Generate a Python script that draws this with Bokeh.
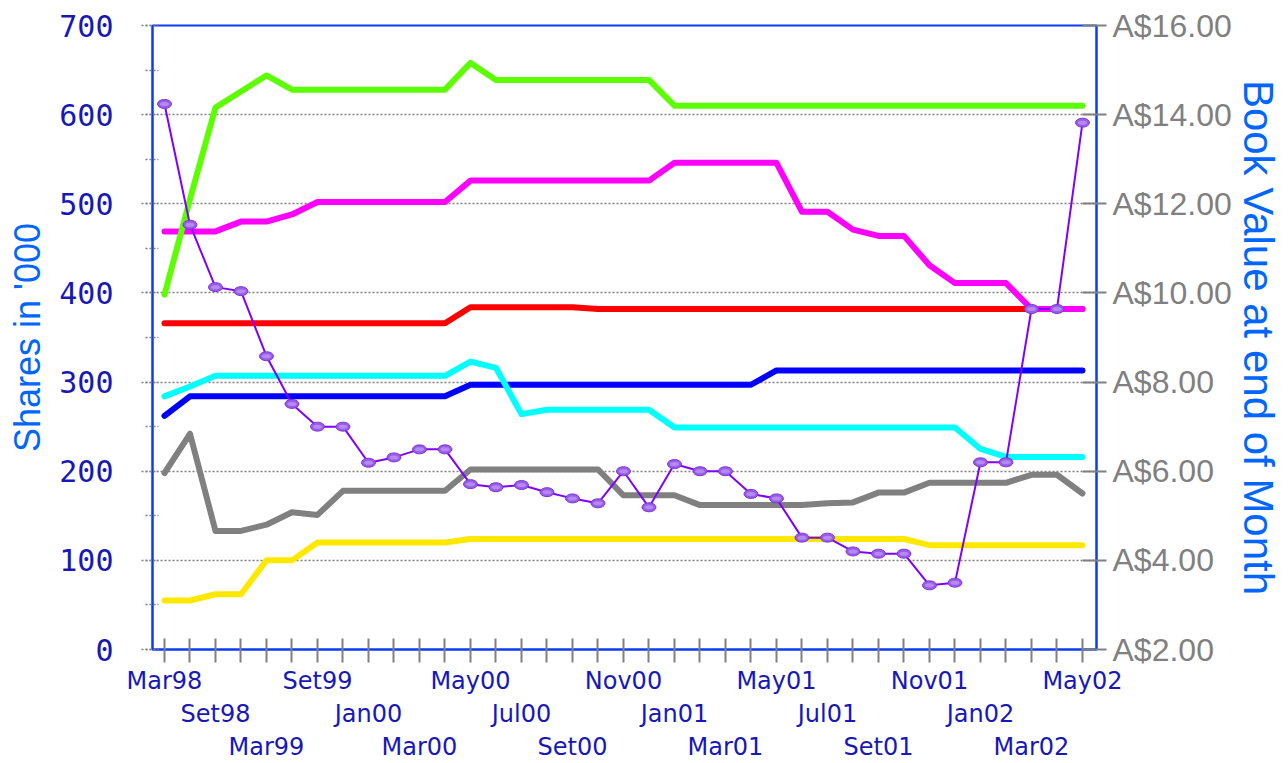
from bokeh.plotting import figure
from bokeh.models import Range1d, LinearAxis, FixedTicker, SingleIntervalTicker
from bokeh.embed import file_html
from bokeh.resources import INLINE

months = ["Mar98", "Jun98", "Set98", "Dec98", "Mar99", "Jun99", "Set99", "Nov99",
          "Jan00", "Feb00", "Mar00", "Apr00", "May00", "Jun00", "Jul00", "Aug00",
          "Set00", "Oct00", "Nov00", "Dec00", "Jan01", "Feb01", "Mar01", "Apr01",
          "May01", "Jun01", "Jul01", "Aug01", "Set01", "Oct01", "Nov01", "Dec01",
          "Jan02", "Feb02", "Mar02", "Apr02", "May02"]

green = [398, 505, 608, 626, 644, 628, 628, 628, 628, 628, 628, 628,
         658, 639, 639, 639, 639, 639, 639, 639,
         610, 610, 610, 610, 610, 610, 610, 610, 610, 610, 610, 610, 610, 610, 610, 610, 610]
magenta = [469, 469, 469, 480, 480, 488, 502, 502, 502, 502, 502, 502,
           526, 526, 526, 526, 526, 526, 526, 526,
           546, 546, 546, 546, 546, 491, 491, 471, 464, 464, 431, 411, 411, 411, 382, 382, 382]
red = [366] * 12 + [384] * 5 + [382] * 20
blue = [262] + [284] * 11 + [297] * 12 + [313] * 13
cyan = [284, 295] + [307] * 10 + [323, 316, 264] + [269] * 5 + [249] * 12 + [225] + [216] * 4
grey = [198, 242, 133, 133, 140, 154, 151] + [178] * 5 + [202] * 6 + [173] * 3 + [162] * 5 + \
       [164, 165, 176, 176] + [187] * 4 + [196, 196, 175]
yellow = [55, 55, 62, 62, 100, 100] + [120] * 6 + [124] * 18 + [117] * 7
book = [14.24, 11.53, 10.13, 10.04, 8.58, 7.51, 7.00, 7.00, 6.19, 6.31, 6.49, 6.49,
        5.71, 5.64, 5.69, 5.53, 5.39, 5.28, 6.00, 5.19, 6.16, 6.00, 6.00, 5.49, 5.39,
        4.51, 4.51, 4.20, 4.15, 4.15, 3.44, 3.50, 6.20, 6.20, 9.64, 9.64, 13.82]
book_ticks = [2, 4, 6, 8, 10, 12, 14, 16]

idx = list(range(len(months)))

AXIS_BLUE = "#0a3cf5"
LABEL_BLUE = "#1818b8"
TITLE_BLUE = "#0066ff"
GREY = "#808080"

p = figure(width=1288, height=763, x_range=Range1d(-0.47, 36.55), y_range=Range1d(0, 700),
           output_backend="svg", toolbar_location=None,
           min_border_left=152, min_border_right=192, min_border_top=25, min_border_bottom=111)
p.outline_line_color = AXIS_BLUE
p.outline_line_width = 2
p.xgrid.visible = False
p.background_fill_color = "white"
p.border_fill_color = "white"

# left axis
ya = p.yaxis[0]
ya.ticker = SingleIntervalTicker(interval=100, num_minor_ticks=2)
ya.axis_line_color = AXIS_BLUE
ya.axis_line_width = 2
ya.major_tick_line_color = GREY
ya.major_tick_line_dash = "2 2"
ya.major_tick_line_width = 1.5
ya.major_tick_in = 0
ya.major_tick_out = 11
ya.minor_tick_line_color = GREY
ya.minor_tick_line_dash = "2 2"
ya.minor_tick_line_width = 1.5
ya.minor_tick_in = 6
ya.minor_tick_out = 7
ya.major_label_text_font = "DejaVu Sans Mono"
ya.major_label_text_font_size = "30px"
ya.major_label_text_color = LABEL_BLUE
ya.major_label_standoff = 28
ya.axis_label = "Shares in '000"
ya.axis_label_text_font = "Liberation Sans"
ya.axis_label_text_font_size = "36px"
ya.axis_label_text_font_style = "normal"
ya.axis_label_text_color = TITLE_BLUE
ya.axis_label_standoff = 8

p.ygrid.grid_line_color = GREY
p.ygrid.grid_line_dash = "2 2"
p.ygrid.grid_line_width = 1.5

# right axis
p.extra_y_ranges = {"book": Range1d(2, 16)}
ra = LinearAxis(y_range_name="book", ticker=FixedTicker(ticks=book_ticks))
ra.major_label_overrides = {t: "A$%.2f" % t for t in book_ticks}
ra.axis_line_color = AXIS_BLUE
ra.axis_line_width = 2
ra.major_tick_line_color = GREY
ra.major_tick_line_width = 2
ra.major_tick_in = 14
ra.major_tick_out = 10
ra.minor_tick_line_color = None
ra.major_label_text_font = "Liberation Sans"
ra.major_label_text_font_size = "32px"
ra.major_label_text_color = GREY
ra.major_label_standoff = 6
ra.axis_label = "Book Value at end of Month"
ra.axis_label_text_font = "Liberation Sans"
ra.axis_label_text_font_size = "42px"
ra.axis_label_text_font_style = "normal"
ra.axis_label_text_color = TITLE_BLUE
ra.axis_label_standoff = 0
p.add_layout(ra, "right")

# bottom axes: three staggered rows of labels
row1 = idx[0::6]
row2 = idx[2::6]
row3 = idx[4::6]

xa = p.xaxis[0]
xa.ticker = FixedTicker(ticks=idx)
xa.major_label_overrides = {i: (months[i] if i in row1 else "") for i in idx}
xa.axis_line_color = AXIS_BLUE
xa.axis_line_width = 2
xa.major_tick_line_color = GREY
xa.major_tick_line_width = 2
xa.major_tick_in = 11
xa.major_tick_out = 13
xa.minor_tick_line_color = None
xa.major_label_standoff = 4

xa2 = LinearAxis(ticker=FixedTicker(ticks=row2))
xa2.major_label_overrides = {i: months[i] for i in row2}
xa2.major_label_standoff = 2
xa3 = LinearAxis(ticker=FixedTicker(ticks=row3))
xa3.major_label_overrides = {i: months[i] for i in row3}
xa3.major_label_standoff = 2
for ax in (xa2, xa3):
    ax.axis_line_color = None
    ax.major_tick_line_color = None
    ax.minor_tick_line_color = None
    ax.major_tick_in = 0
    ax.major_tick_out = 0
    p.add_layout(ax, "below")
for ax in (xa, xa2, xa3):
    ax.major_label_text_font = "DejaVu Sans"
    ax.major_label_text_font_size = "24px"
    ax.major_label_text_color = LABEL_BLUE

# series
style = dict(line_width=6, line_cap="round", line_join="round")
p.line(idx, red, line_color="#ff0000", **style)
p.line(idx, magenta, line_color="#ff00ff", **style)
p.line(idx, blue, line_color="#0000ff", **style)
p.line(idx, cyan, line_color="#00ffff", **style)
p.line(idx, grey, line_color="#808080", **style)
p.line(idx, yellow, line_color="#ffe800", **style)
p.line(idx, green, line_color="#5cff00", **style)

p.line(idx, book, y_range_name="book", line_color="#8000ff", line_width=2)
p.ellipse(idx, book, width=14, height=9, width_units="screen", height_units="screen",
          y_range_name="book", fill_color="#9a5ce8", line_color="#7a36d8", line_width=1)
p.ellipse(idx, book, width=9, height=4, width_units="screen", height_units="screen",
          y_range_name="book", fill_color="#b489f2", line_color=None)

open("out.html", "w").write(file_html(p, INLINE))
